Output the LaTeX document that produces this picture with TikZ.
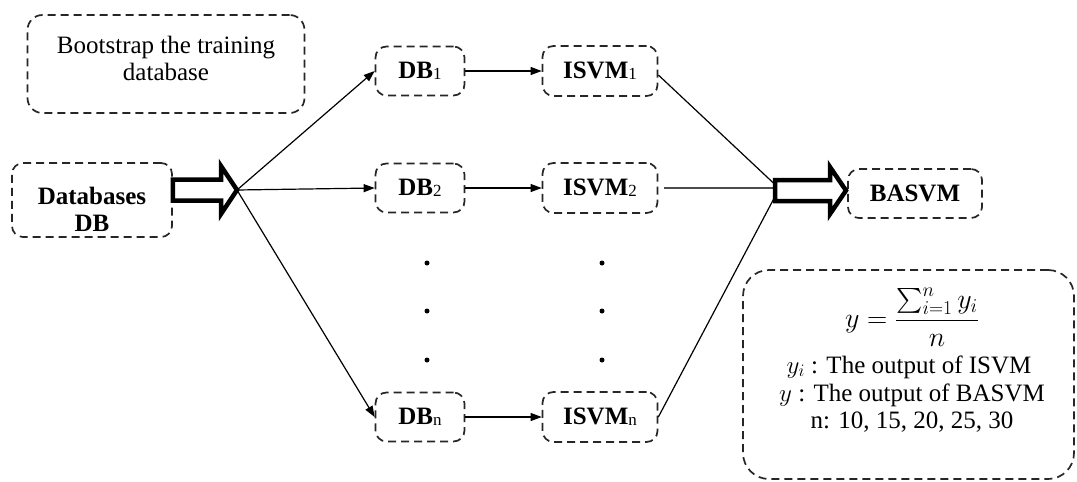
\RequirePackage{fix-cm}
\documentclass[tikz,border=0pt]{standalone}
\usepackage{amsmath}
\usepackage{fontspec}
\setmainfont{Liberation Serif}
\usetikzlibrary{arrows.meta,calc}
\begin{document}
\begin{tikzpicture}[x=1pt,y=-1pt,
  every node/.style={font=\fontsize{25}{27}\selectfont, inner sep=0pt},
  box/.style={draw=black!85, line width=1.7pt, dash pattern=on 8pt off 5pt, rounded corners=11pt},
  bold/.style={font=\bfseries\fontsize{25}{27}\selectfont},
  flow/.style={line width=1.2pt, -{Triangle[length=11pt,width=8pt]}},
  hollow/.style={draw, fill=white, line width=4.5pt, line join=miter, miter limit=5},
  dotmark/.style={circle, fill=black, minimum size=5pt},
  note/.style={anchor=base, text height=17pt, text depth=5pt}
]
\useasboundingbox (0,0) rectangle (1077,482);

% input and note boxes
\node[box, minimum width=277pt, minimum height=98pt, rounded corners=15pt] (boot) at (166,64) {};
\node[align=center] (boottxt) at (166,58) {Bootstrap the training\\database};

\node[box, minimum width=160pt, minimum height=74pt] (db) at (92,200) {};
\node[align=center, bold] (dbtxt) at (92,209) {Databases\\DB};

% bootstrap samples and classifiers
\newcommand{\sub}[1]{{\mdseries\fontsize{17}{17}\selectfont\raisebox{-1pt}{#1}}}
\foreach \i/\y in {1/71, 2/188, n/417}{
  \node[box, minimum width=89pt, minimum height=49pt, bold] (db\i) at (420,\y) {DB\sub{\i}};
  \node[box, minimum width=115pt, minimum height=50pt, bold] (svm\i) at (600,\y) {ISVM\sub{\i}};
  \draw[flow] (db\i.east) -- (svm\i.west);
}

% vertical ellipses
\foreach \y [count=\k] in {263,311,360}{
  \node[dotmark] (ldot\k) at (427,\y) {};
  \node[dotmark] (rdot\k) at (602,\y) {};
}

% aggregated output
\node[box, minimum width=134pt, minimum height=49pt, bold] (bas) at (915,193.5) {BASVM};

% averaging rule
\node[box, minimum width=331pt, minimum height=209pt, rounded corners=26pt] (formbox) at (908.5,374.5) {};
\node[anchor=base, font=\fontsize{28}{30}\selectfont] (frac) at (912,327) {$y=\dfrac{\textstyle\sum_{i=1}^{n} y_i}{n}$};
\node[note] (lyi) at (909,373) {$y_i$ : The output of ISVM};
\node[note] (ly) at (912,401) {$y$ : The output of BASVM};
\node[note] (ln) at (912,428) {n: 10, 15, 20, 25, 30};

% fan-out and fan-in points
\coordinate (fan) at (237,190);
\coordinate (conv) at (775,190.5);
\coordinate (tip) at (846,190.5);

% hollow arrow from the database to the fan point
\draw[hollow] (db.east |- 0,179.5) -- (221,179.5) -- (221,166) -- (fan) -- (221,214) -- (221,200.5) -- (db.east |- 0,200.5) -- cycle;

\foreach \i in {1,2,n}{
  \draw[flow] (fan) -- (db\i.west);
}

\draw[line width=1.2pt] (svm1.east) ++(0,4) -- ($(conv)+(0,-6)$);
\draw[line width=1.2pt, draw=black!70] (svm2.east) ++(6,0) -- (conv |- svm2.east);
\draw[line width=1.2pt] (svmn.east) -- ($(conv)+(0,6)$);

% hollow arrow from the fan-in point to the aggregated output
\draw[hollow] (conv) ++(0,-10.5) -- (830,180) -- (830,167) -- (tip) -- (830,214) -- (830,201) -- (775,201) -- cycle;
\end{tikzpicture}
\end{document}
